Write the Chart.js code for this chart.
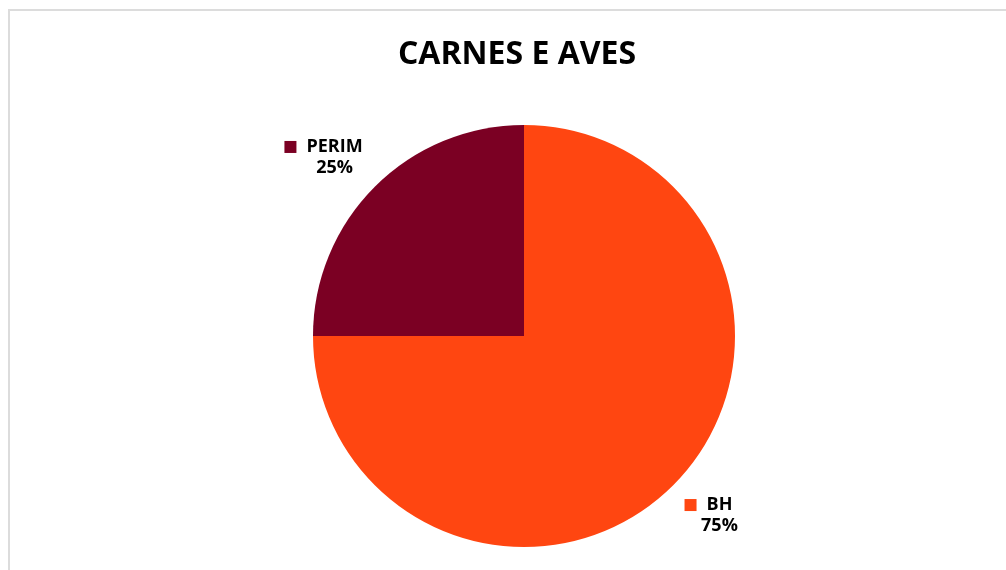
<!DOCTYPE html>
<html lang="pt">
<head>
    <meta charset="UTF-8">
    <title>Carnes e Aves</title>
    <script src="https://cdn.jsdelivr.net/npm/chart.js"></script>
    <style>
        body {
            margin: 0;
            background: #ffffff;
            overflow: hidden;
        }

        .frame {
            position: absolute;
            left: 8px;
            top: 9px;
            width: 1100px;
            height: 700px;
            border-top: 2px solid #dcdcdc;
            border-left: 2px solid #dcdcdc;
        }

        #pieChart {
            position: absolute;
            left: 0;
            top: 0;
        }
    </style>
</head>
<body>
    <div class="frame"></div>
    <canvas id="pieChart" width="1006" height="570"></canvas>

    <script>
        const chartTitle = 'CARNES E AVES';
        const categories = ['BH', 'PERIM'];
        const shares = [75, 25];
        const sliceColors = ['#ff4611', '#7b0023'];

        // title + the "■ NAME / xx%" labels outside each slice
        const outsideLabels = {
            id: 'outsideLabels',
            afterDatasetsDraw(chart) {
                const ctx = chart.ctx;
                const arcs = chart.getDatasetMeta(0).data;
                ctx.save();
                ctx.textAlign = 'center';
                ctx.textBaseline = 'middle';

                ctx.fillStyle = '#000000';
                ctx.font = 'bold 32px "Open Sans"';
                ctx.fillText(chartTitle, 517, 55);

                ctx.font = 'bold 18px "Open Sans"';
                arcs.forEach((arc, i) => {
                    const p = arc.getProps(['x', 'y', 'startAngle', 'endAngle', 'outerRadius']);
                    const mid = (p.startAngle + p.endAngle) / 2;
                    const cx = p.x - 8 + Math.cos(mid) * p.outerRadius * 1.29;
                    const cy = p.y + Math.sin(mid) * p.outerRadius * 1.2;
                    const name = categories[i];
                    const pct = shares[i] + '%';
                    const nameW = ctx.measureText(name).width;
                    const sq = 12, gap = 10;
                    const total = sq + gap + nameW;
                    const left = cx - total / 2;
                    const nameX = left + sq + gap + nameW / 2;
                    const y1 = cy - 10, y2 = cy + 11;
                    ctx.fillStyle = sliceColors[i];
                    ctx.fillRect(left, y1 - sq / 2, sq, sq);
                    ctx.fillStyle = '#000000';
                    ctx.fillText(name, nameX, y1);
                    ctx.fillText(pct, nameX, y2);
                });
                ctx.restore();
            }
        };

        new Chart(document.getElementById('pieChart').getContext('2d'), {
            type: 'pie',
            data: {
                labels: categories,
                datasets: [{
                    data: shares,
                    backgroundColor: sliceColors,
                    borderWidth: 0
                }]
            },
            options: {
                responsive: false,
                animation: false,
                layout: {
                    padding: { left: 42, right: 0, top: 125, bottom: 23 }
                },
                plugins: {
                    legend: { display: false },
                    tooltip: { enabled: false },
                    title: { display: false }
                }
            },
            plugins: [outsideLabels]
        });
    </script>
</body>
</html>
